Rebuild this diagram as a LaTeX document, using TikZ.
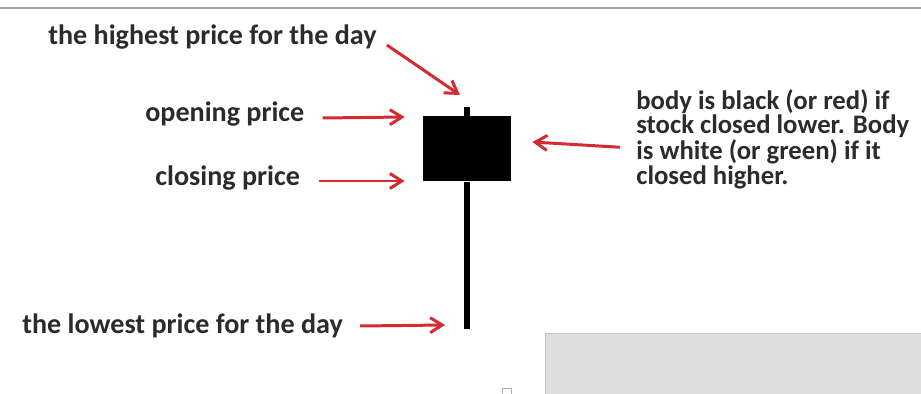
\documentclass[tikz,border=0pt]{standalone}
\usepackage{fontspec}
\setmainfont{Carlito}
\usetikzlibrary{arrows.meta,positioning}
\definecolor{cndred}{HTML}{D42A30}
\definecolor{cndtext}{HTML}{2B2B2B}
\definecolor{cndgray}{HTML}{DEDEDE}
\tikzset{
  lbl/.style={font=\fontsize{16}{16}\selectfont\bfseries,text=cndtext,inner sep=0pt},
  note/.style={lbl,align=left,font=\fontsize{15.2}{13}\selectfont\bfseries},
  ar/.style={-{Straight Barb[length=2.4mm,width=3mm]},draw=cndred,line width=1.7pt},
  body/.style={fill=black,draw=none,minimum width=1.76cm,minimum height=1.3cm,inner sep=0pt},
  wick/.style={draw=black,line width=3pt},
}
\begin{document}
\begin{tikzpicture}[x=0.02cm,y=-0.02cm]
  \useasboundingbox (0,0) rectangle (921,394);
  % screenshot frame
  \draw[gray!70,line width=1.2pt] (0,8) -- (921,8);
  \fill[cndgray] (545,333) rectangle (921,394);
  \draw[gray!45] (545,394) -- (545,333) -- (921,333);
  \draw[gray!60,line width=0.5pt] (502,388) rectangle (511,394);
  % candle
  \node[body] (body) at (467,149) {};
  \coordinate (hi) at (467,107);
  \coordinate (lo) at (467,329);
  \draw[wick] (body.north) -- (hi);
  \draw[wick] (body.south) -- (lo);
  % labels
  \node[lbl,anchor=west] (high) at (48,37) {the highest price for the day};
  \node[lbl,anchor=west] (open) at (145,114) {opening price};
  \node[lbl,anchor=west] (close) at (155,178) {closing price};
  \node[lbl,anchor=west] (low) at (22,326) {the lowest price for the day};
  \node[note,anchor=north west] (bodynote) at (636,89)
    {body is black (or red) if\\stock closed lower. Body\\is white (or green) if it\\closed higher.};
  % arrows
  \draw[ar] ([shift={(10,8)}]high.east) -- ([shift={(-7,-12)}]hi);
  \draw[ar] ([shift={(18,4)}]open.east) -- ([shift={(-18,-32)}]body.west);
  \draw[ar] ([shift={(19,3)}]close.east) -- ([shift={(-18,32)}]body.west);
  \draw[ar] ([shift={(17,0)}]low.east) -- ([shift={(-22,-4)}]lo);
  \draw[ar] ([shift={(-16,8)}]bodynote.west) -- ([shift={(21,-7)}]body.east);
\end{tikzpicture}
\end{document}
